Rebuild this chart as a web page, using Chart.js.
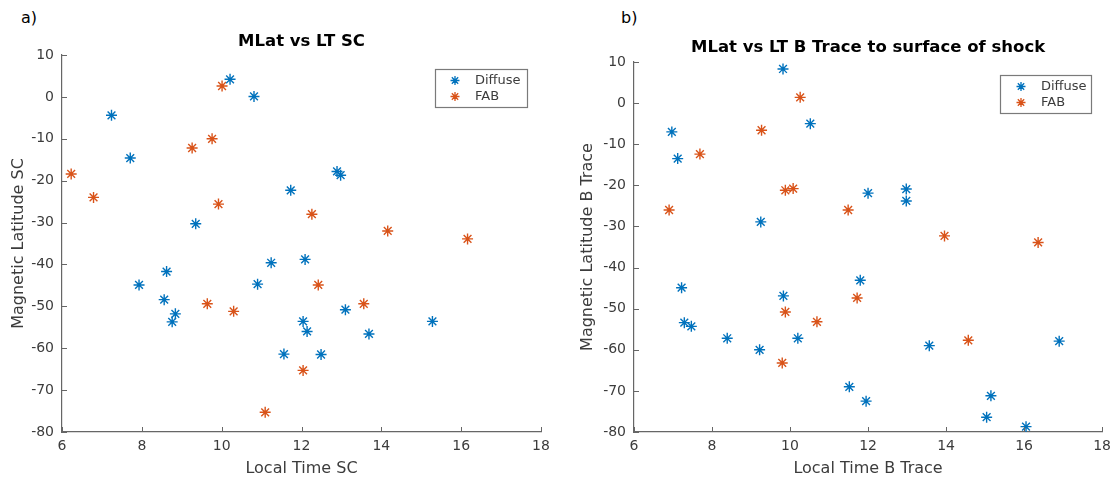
<!DOCTYPE html>
<html>
<head>
<meta charset="utf-8">
<script src="https://cdn.jsdelivr.net/npm/chart.js@4.4.1/dist/chart.umd.min.js"></script>
<style>
  html, body { margin: 0; padding: 0; background: #fff; width: 1117px; height: 478px; overflow: hidden; }
  .panel { position: absolute; top: 0; height: 478px; }
  .tag { position: absolute; font: 16px "DejaVu Sans", sans-serif; color: #000; line-height: 20px; }
</style>
</head>
<body>
<div class="tag" style="left:21px;top:8px">a)</div>
<div class="tag" style="left:621px;top:8px">b)</div>
<div class="panel" style="left:0;width:558px"><canvas id="scPanel" width="558" height="478"></canvas></div>
<div class="panel" style="left:558px;width:559px"><canvas id="tracePanel" width="559" height="478"></canvas></div>

<script>
// Panel a) spacecraft position: local time (h) and magnetic latitude (deg)
const scDiffuseLT  = [7.24, 7.71, 10.21, 10.81, 9.35, 11.73, 12.89, 12.98, 7.93, 8.62, 8.56, 8.84, 8.76, 10.90, 11.24, 12.09, 12.04, 12.14, 11.56, 12.49, 13.10, 13.69, 15.28];
const scDiffuseLat = [-4.4, -14.6, 4.2, 0.1, -30.3, -22.3, -17.8, -18.7, -44.9, -41.7, -48.4, -51.8, -53.7, -44.7, -39.6, -38.8, -53.6, -56.0, -61.4, -61.5, -50.8, -56.6, -53.6];
const scFabLT      = [6.23, 6.79, 10.01, 9.26, 9.76, 9.92, 12.26, 14.16, 16.16, 12.42, 9.64, 10.30, 13.56, 12.04, 11.09];
const scFabLat     = [-18.4, -24.0, 2.6, -12.2, -10.0, -25.6, -28.0, -32.0, -33.9, -44.9, -49.4, -51.2, -49.4, -65.3, -75.3];

// Panel b) field line traced to the shock surface
const trDiffuseLT  = [9.82, 6.97, 7.12, 10.52, 12.00, 12.98, 12.98, 9.25, 7.22, 7.29, 7.47, 8.39, 9.22, 9.83, 10.20, 11.80, 11.52, 11.95, 13.57, 15.15, 15.04, 16.05, 16.90];
const trDiffuseLat = [8.3, -7.0, -13.5, -5.0, -21.9, -20.9, -23.8, -28.9, -44.9, -53.4, -54.3, -57.2, -60.0, -46.9, -57.2, -43.1, -69.0, -72.5, -59.0, -71.2, -76.4, -78.7, -57.9];
const trFabLT      = [6.90, 7.69, 9.27, 10.26, 9.88, 10.08, 11.49, 13.96, 16.36, 11.72, 9.88, 10.69, 9.80, 14.57];
const trFabLat     = [-26.0, -12.4, -6.6, 1.4, -21.2, -20.8, -26.0, -32.3, -33.9, -47.4, -50.8, -53.2, -63.2, -57.7];

const seriesNames = ['Diffuse', 'FAB'];
const seriesColors = ['#0072BD', '#D95319'];
const xTickRange = { min: 6, max: 18, step: 2 };
const yTickRange = { min: -80, max: 10, step: 10 };

const AXIS_COLOR = '#666666';
const TEXT_COLOR = '#3c3c3c';
Chart.defaults.font.family = '"DejaVu Sans", sans-serif';

function toPoints(xs, ys) { return xs.map((x, i) => ({ x: x, y: ys[i] })); }

function makeDataset(label, color, xs, ys) {
  return {
    label: label,
    data: toPoints(xs, ys),
    showLine: false,
    pointStyle: 'star',
    pointRadius: 5.5,
    pointHoverRadius: 5.5,
    pointBorderWidth: 1.4,
    borderColor: color,
    backgroundColor: color
  };
}

// Inward tick marks, bold title and boxed legend
const decorPlugin = {
  id: 'decor',
  afterDraw(chart, args, opts) {
    const ctx = chart.ctx, a = chart.chartArea;
    const xs = chart.scales.x, ys = chart.scales.y;
    ctx.save();
    ctx.strokeStyle = AXIS_COLOR;
    ctx.lineWidth = 1;
    ctx.beginPath();
    xs.ticks.forEach(t => {
      const p = Math.round(xs.getPixelForValue(t.value)) + 0.5;
      ctx.moveTo(p, a.bottom); ctx.lineTo(p, a.bottom - 5);
    });
    ys.ticks.forEach(t => {
      const p = Math.round(ys.getPixelForValue(t.value)) + 0.5;
      ctx.moveTo(a.left, p); ctx.lineTo(a.left + 5, p);
    });
    ctx.stroke();

    ctx.fillStyle = '#000';
    ctx.font = 'bold 16.5px "DejaVu Sans", sans-serif';
    ctx.textAlign = 'center';
    ctx.textBaseline = 'middle';
    ctx.fillText(opts.title, (a.left + a.right) / 2, opts.titleY);

    const L = opts.legend;
    ctx.fillStyle = '#fff';
    ctx.fillRect(L.x, L.y, L.w, L.h);
    ctx.strokeStyle = '#7a7a7a';
    ctx.lineWidth = 1.2;
    ctx.strokeRect(L.x + 0.5, L.y + 0.5, L.w, L.h);
    ctx.font = '13px "DejaVu Sans", sans-serif';
    ctx.textAlign = 'left';
    chart.data.datasets.forEach((ds, i) => {
      const cy = L.y + 11.5 + i * 16;
      ctx.strokeStyle = ds.borderColor;
      ctx.fillStyle = ds.borderColor;
      ctx.lineWidth = 1.3;
      Chart.helpers.drawPoint(ctx, { pointStyle: 'star', radius: 4.5, borderWidth: 1.3, rotation: 0 }, L.x + L.mark, cy);
      ctx.fillStyle = TEXT_COLOR;
      ctx.fillText(ds.label, L.x + L.text, cy);
    });
    ctx.restore();
  }
};

function makeChart(canvasId, cfg) {
  return new Chart(document.getElementById(canvasId), {
    type: 'scatter',
    data: {
      datasets: [
        makeDataset(seriesNames[0], seriesColors[0], cfg.diffuseLT, cfg.diffuseLat),
        makeDataset(seriesNames[1], seriesColors[1], cfg.fabLT, cfg.fabLat)
      ]
    },
    options: {
      responsive: false,
      animation: false,
      events: [],
      layout: { padding: { left: 0, top: cfg.top, right: cfg.right, bottom: 0 } },
      plugins: {
        legend: { display: false },
        tooltip: { enabled: false },
        decor: { title: cfg.title, titleY: cfg.titleY, legend: cfg.legend }
      },
      scales: {
        x: {
          type: 'linear',
          min: xTickRange.min, max: xTickRange.max,
          ticks: { stepSize: xTickRange.step, color: TEXT_COLOR, font: { size: 14 }, padding: 6, maxRotation: 0 },
          grid: { display: false, drawTicks: false },
          border: { display: true, color: AXIS_COLOR, width: 1.2 },
          title: { display: true, text: cfg.xTitle, color: TEXT_COLOR, font: { size: 16 }, padding: { top: 0, bottom: 0 } },
          afterFit: s => { s.height = 46; }
        },
        y: {
          type: 'linear',
          min: yTickRange.min, max: yTickRange.max,
          ticks: { stepSize: yTickRange.step, color: TEXT_COLOR, font: { size: 14 }, padding: 8 },
          grid: { display: false, drawTicks: false },
          border: { display: true, color: AXIS_COLOR, width: 1.2 },
          title: { display: true, text: cfg.yTitle, color: TEXT_COLOR, font: { size: 16 }, padding: { top: cfg.yTitlePad, bottom: 0 } },
          afterFit: s => { s.width = cfg.axisLeft; }
        }
      }
    },
    plugins: [decorPlugin]
  });
}

makeChart('scPanel', {
  diffuseLT: scDiffuseLT, diffuseLat: scDiffuseLat, fabLT: scFabLT, fabLat: scFabLat,
  title: 'MLat vs LT SC', titleY: 42,
  xTitle: 'Local Time SC', yTitle: 'Magnetic Latitude SC',
  top: 55, right: 17, axisLeft: 62, yTitlePad: 9,
  legend: { x: 435, y: 69, w: 92, h: 38, mark: 20, text: 40 }
});

makeChart('tracePanel', {
  diffuseLT: trDiffuseLT, diffuseLat: trDiffuseLat, fabLT: trFabLT, fabLat: trFabLat,
  title: 'MLat vs LT B Trace to surface of shock', titleY: 48,
  xTitle: 'Local Time B Trace', yTitle: 'Magnetic Latitude B Trace',
  top: 62, right: 14, axisLeft: 76, yTitlePad: 20,
  legend: { x: 442, y: 75, w: 91, h: 38, mark: 21, text: 41 }
});
</script>
</body>
</html>
